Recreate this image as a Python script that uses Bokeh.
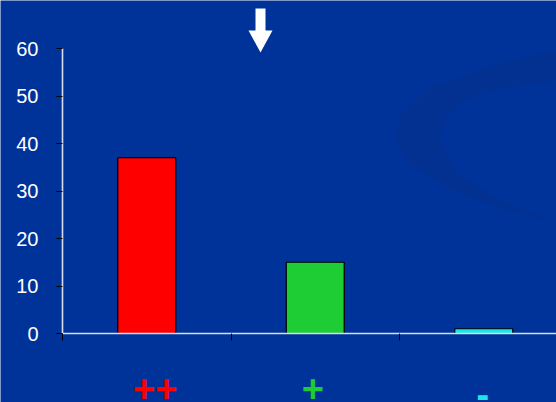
from bokeh.plotting import figure
from bokeh.models import Range1d, FixedTicker, LinearAxis
from bokeh.core.properties import value
from bokeh.embed import file_html
from bokeh.resources import INLINE

# data
categories = ["++", "+", "-"]
values = [37, 15, 1]
bar_colors = ["#ff0000", "#1ecc33", "#1ee6e6"]
y_ticks = [0, 10, 20, 30, 40, 50, 60]

BG = "#003399"
AXIS_COL = "#d8def0"
W, H = 556, 402
LEFT, ZERO_Y, TOP_Y = 62, 333, 48      # pixel layout of the plot
CAT_PX = 168.5
PX_PER_UNIT = (ZERO_Y - TOP_Y) / 60.0

def sx(v):
    return (v - LEFT) / CAT_PX
def sy(v):
    return (ZERO_Y - v) / PX_PER_UNIT

p = figure(width=W, height=H, output_backend="svg", toolbar_location=None,
           x_range=Range1d(sx(0), sx(W)), y_range=Range1d(sy(H), sy(0)),
           min_border_left=0, min_border_top=0, min_border_bottom=0, min_border_right=0,
           x_axis_location=None, y_axis_location=None)
p.background_fill_color = BG
p.border_fill_color = BG
p.outline_line_color = None
p.xgrid.visible = False
p.ygrid.visible = False

# decorative swoosh (background artwork)
outer = [(556, 50), (500, 62), (430, 87), (400, 115), (395, 143), (410, 165), (447, 187), (500, 208), (556, 223)]
inner = [(556, 80), (500, 88), (463, 100), (445, 118), (440, 140), (457, 173), (500, 200), (556, 223)]
pts = outer + inner[::-1]
p.patch([sx(a) for a, b in pts], [sy(b) for a, b in pts], fill_color="#062f8a", fill_alpha=0.45, line_color=None)

xs = [i + 0.5 for i in range(len(categories))]
p.vbar(x=xs, top=values, width=0.344, fill_color=bar_colors, line_color="black", line_width=1.2)

# y axis at x = 0 (line drawn only over 0..60)
yaxis = LinearAxis(fixed_location=0, ticker=FixedTicker(ticks=y_ticks), bounds=(0, 60))
yaxis.axis_line_color = None
yaxis.major_tick_line_color = "black"
yaxis.major_tick_out = 6
yaxis.major_tick_in = 0
yaxis.minor_tick_line_color = None
yaxis.major_label_text_color = "white"
yaxis.major_label_text_font = "Liberation Sans"
yaxis.major_label_text_font_size = "20px"
yaxis.major_label_standoff = 18
p.add_layout(yaxis, "left")
p.segment(x0=[0], y0=[0], x1=[0], y1=[60], line_color=AXIS_COL, line_width=1.6)

# x axis at y = 0
xaxis = LinearAxis(fixed_location=0, ticker=FixedTicker(ticks=[0, 1, 2, 3]), bounds=(0, sx(W)))
xaxis.axis_line_color = AXIS_COL
xaxis.axis_line_width = 1.3
xaxis.major_tick_line_color = "black"
xaxis.major_tick_out = 7
xaxis.major_tick_in = 0
xaxis.minor_tick_line_color = None
xaxis.major_label_overrides = {0: "", 1: "", 2: "", 3: ""}
p.add_layout(xaxis, "below")

# coloured category labels
label_x = [xs[0] + 0.05, xs[1] - 0.015, xs[2] - 0.005]
label_y = [sy(388), sy(388), sy(394)]
p.text(x=label_x, y=label_y, text=categories, text_color=bar_colors,
       text_font=value("Liberation Sans"), text_font_style="bold", text_font_size="38px",
       text_align="center", text_baseline="middle")

# white down arrow
arrow = [(255, 8), (265, 8), (265, 30), (272, 30), (260, 52), (248, 30), (255, 30)]
p.patch([sx(a) for a, b in arrow], [sy(b) for a, b in arrow], fill_color="white", line_color=None)

open("out.html", "w").write(file_html(p, INLINE))
